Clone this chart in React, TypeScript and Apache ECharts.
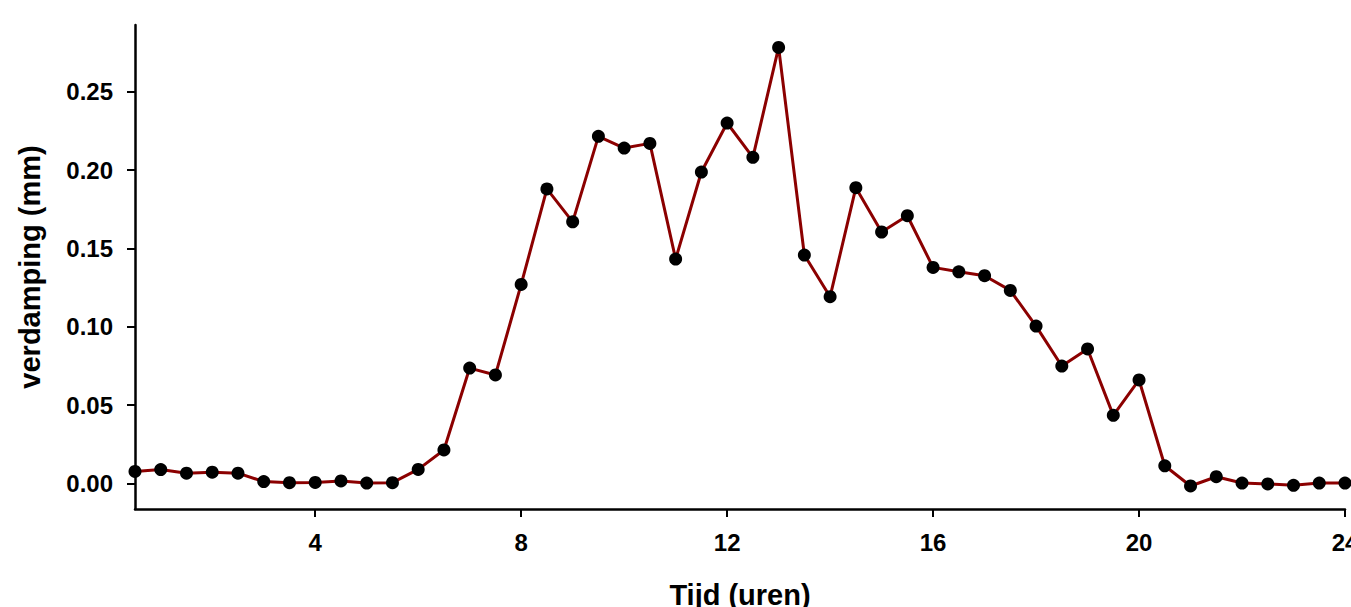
import React, { useEffect, useRef } from "react";
import * as echarts from "echarts";

const hours = [
  0.5, 1, 1.5, 2, 2.5, 3, 3.5, 4, 4.5, 5, 5.5, 6, 6.5, 7, 7.5, 8,
  8.5, 9, 9.5, 10, 10.5, 11, 11.5, 12, 12.5, 13, 13.5, 14, 14.5, 15, 15.5, 16,
  16.5, 17, 17.5, 18, 18.5, 19, 19.5, 20, 20.5, 21, 21.5, 22, 22.5, 23, 23.5, 24,
];

const evaporation = [
  0.0076, 0.0088, 0.0065, 0.0071, 0.0065, 0.0011, 0.0004, 0.0006, 0.0015, 0.0002, 0.0004, 0.0089, 0.0213, 0.0736, 0.0692, 0.127,
  0.188, 0.167, 0.2216, 0.2141, 0.2171, 0.1432, 0.1988, 0.2301, 0.2082, 0.2784, 0.1458, 0.1192, 0.1888, 0.1605, 0.1709, 0.1379,
  0.1351, 0.1326, 0.1232, 0.1004, 0.0749, 0.0858, 0.0434, 0.066, 0.0112, -0.0017, 0.0042, 0.0002, -0.0004, -0.0013, 0.0002, 0.0002,
];

const xTicks = [4, 8, 12, 16, 20, 24];
const yTicks = [0, 0.05, 0.1, 0.15, 0.2, 0.25];

const FONT = "'Liberation Sans', Arial, sans-serif";

export default function App() {
  const ref = useRef<HTMLDivElement>(null);

  useEffect(() => {
    if (!ref.current) return;
    const chart = echarts.init(ref.current, undefined, { renderer: "svg" });
    chart.setOption({
      animation: false,
      backgroundColor: "#ffffff",
      grid: {
        left: 135,
        right: 6,
        top: 25,
        bottom: 98,
        containLabel: false,
        outerBoundsMode: "none",
      },
      xAxis: {
        type: "value",
        min: 0.5,
        max: 24,
        name: "Tijd (uren)",
        nameLocation: "middle",
        nameGap: 71,
        nameTextStyle: { fontFamily: FONT, fontWeight: "bold", fontSize: 29, color: "#000" },
        axisLine: { show: true, onZero: false, lineStyle: { color: "#000", width: 2.5 } },
        axisTick: { show: true, length: 8, inside: false, customValues: xTicks, lineStyle: { color: "#000", width: 2 } },
        axisLabel: {
          customValues: xTicks,
          margin: 21,
          fontFamily: FONT,
          fontWeight: "bold",
          fontSize: 24,
          color: "#000",
          showMinLabel: true,
          showMaxLabel: true,
          hideOverlap: false,
        },
        splitLine: { show: false },
      },
      yAxis: {
        type: "value",
        min: -0.0164,
        max: 0.2927,
        name: "verdamping (mm)",
        nameLocation: "middle",
        nameGap: 91,
        nameRotate: 90,
        nameTextStyle: { fontFamily: FONT, fontWeight: "bold", fontSize: 29, color: "#000" },
        axisLine: { show: true, onZero: false, lineStyle: { color: "#000", width: 2.5 } },
        axisTick: { show: true, length: 8, inside: false, customValues: yTicks, lineStyle: { color: "#000", width: 2 } },
        axisLabel: {
          customValues: yTicks,
          margin: 22,
          formatter: (v: number) => v.toFixed(2),
          fontFamily: FONT,
          fontWeight: "bold",
          fontSize: 24,
          color: "#000",
        },
        splitLine: { show: false },
      },
      series: [
        {
          type: "line",
          data: hours.map((h, i) => [h, evaporation[i]]),
          symbol: "circle",
          symbolSize: 13,
          showSymbol: true,
          clip: false,
          lineStyle: { color: "#8b0000", width: 3 },
          itemStyle: { color: "#000", borderWidth: 0 },
        },
      ],
    });
    return () => chart.dispose();
  }, []);

  return (
    <div
      ref={ref}
      style={{ position: "fixed", left: 0, top: 0, width: 1351, height: 607, background: "#fff" }}
    />
  );
}
